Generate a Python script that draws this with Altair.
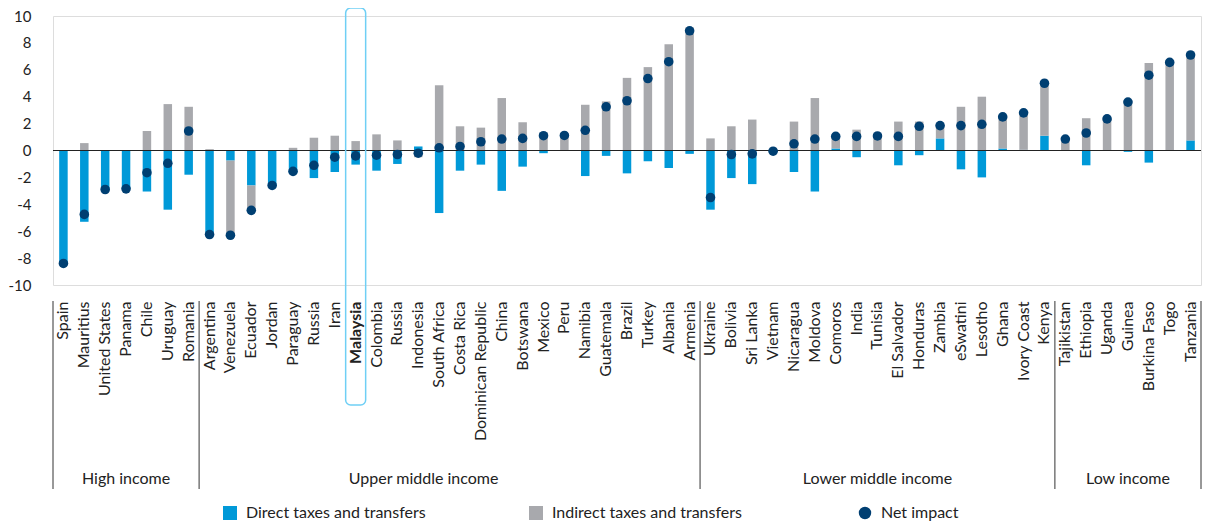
import altair as alt
import pandas as pd

countries = [
    "Spain", "Mauritius", "United States", "Panama", "Chile", "Uruguay", "Romania",
    "Argentina", "Venezuela", "Ecuador", "Jordan", "Paraguay", "Russia", "Iran", "Malaysia",
    "Colombia", "Russia", "Indonesia", "South Africa", "Costa Rica", "Dominican Republic",
    "China", "Botswana", "Mexico", "Peru", "Namibia", "Guatemala", "Brazil", "Turkey",
    "Albania", "Armenia",
    "Ukraine", "Bolivia", "Sri Lanka", "Vietnam", "Nicaragua", "Moldova", "Comoros", "India",
    "Tunisia", "El Salvador", "Honduras", "Zambia", "eSwatini", "Lesotho", "Ghana",
    "Ivory Coast", "Kenya",
    "Tajikistan", "Ethiopia", "Uganda", "Guinea", "Burkina Faso", "Togo", "Tanzania",
]
groups = ["High income", "Upper middle income", "Lower middle income", "Low income"]
group_sizes = [7, 24, 17, 7]

direct = [
    -8.4, -5.3, -2.9, -2.85, -3.05, -4.4, -1.8,
    -6.3, -0.75, -2.6, -2.6, -1.7, -2.05, -1.6, -1.05,
    -1.5, -1.0, 0.3, -4.65, -1.5, -1.05,
    -3.0, -1.2, -0.2, -0.03, -1.9, -0.4, -1.7, -0.8,
    -1.3, -0.25,
    -4.4, -2.05, -2.5, -0.1, -1.6, -3.05, 0.15, -0.5,
    -0.02, -1.1, -0.35, 0.9, -1.4, -2.0, 0.15,
    0.05, 1.1,
    0.0, -1.1, 0.0, -0.1, -0.9, 0.0, 0.75,
]
indirect = [
    0.0, 0.55, 0.0, 0.0, 1.45, 3.45, 3.25,
    0.1, -5.55, -1.8, 0.0, 0.2, 0.95, 1.1, 0.7,
    1.2, 0.75, -0.5, 4.85, 1.8, 1.7,
    3.9, 2.1, 1.3, 1.15, 3.4, 3.65, 5.4, 6.2,
    7.9, 9.15,
    0.9, 1.8, 2.3, 0.05, 2.15, 3.9, 0.9, 1.55,
    1.1, 2.15, 2.15, 0.95, 3.25, 4.0, 2.35,
    2.75, 3.9,
    0.85, 2.4, 2.35, 3.7, 6.5, 6.55, 6.35,
]
net = [
    -8.4, -4.75, -2.9, -2.85, -1.65, -0.95, 1.45,
    -6.25, -6.3, -4.45, -2.6, -1.55, -1.1, -0.5, -0.4,
    -0.35, -0.3, -0.2, 0.2, 0.3, 0.65,
    0.85, 0.9, 1.1, 1.12, 1.5, 3.25, 3.7, 5.35,
    6.6, 8.9,
    -3.5, -0.3, -0.25, -0.05, 0.5, 0.85, 1.05, 1.05,
    1.08, 1.05, 1.8, 1.85, 1.85, 1.95, 2.5,
    2.8, 5.0,
    0.85, 1.3, 2.35, 3.6, 5.6, 6.55, 7.1,
]
series_names = ["Direct taxes and transfers", "Indirect taxes and transfers"]
net_name = "Net impact"
highlight = "Malaysia"
y_ticks = [-10, -8, -6, -4, -2, 0, 2, 4, 6, 8, 10]

BLUE = "#0099D8"
GREY = "#A8A9AD"
NAVY = "#003F72"
FONT = "Lato"
TXT = "#222222"
FS = 16

# unique keys (Russia appears twice)
seen = {}
keys = []
for c in countries:
    k = seen.get(c, 0)
    keys.append(c + "\u200b" * k)
    seen[c] = k + 1

rows = []
for i, k in enumerate(keys):
    rows.append({"key": k, "series": series_names[0], "value": direct[i], "order": 0})
    rows.append({"key": k, "series": series_names[1], "value": indirect[i], "order": 1})
bars_df = pd.DataFrame(rows)
net_df = pd.DataFrame({"key": keys, "net": net, "series": net_name})

starts = []
s = 0
for n in group_sizes:
    starts.append(s)
    s += n
sep_left = pd.DataFrame({"key": [keys[i] for i in starts]})
sep_right = pd.DataFrame({"key": [keys[-1]]})
lab_rows = []
for g, s0, n in zip(groups, starts, group_sizes):
    lab_rows.append({"key": keys[s0 + n // 2], "group": g, "odd": int(n % 2)})
lab_df = pd.DataFrame(lab_rows)

xscale = alt.Scale(domain=keys, paddingInner=0, paddingOuter=0)
xaxis = alt.Axis(
    title=None, labelAngle=-90, labelAlign="right", labelBaseline="middle",
    labelPadding=16, ticks=False, domain=False, labelFontSize=FS,
    labelColor=TXT, labelLimit=400, labelFont=FONT,
    labelFontWeight={"condition": {"test": "datum.value == 'Malaysia'", "value": "bold"},
                     "value": "normal"},
)
yscale = alt.Scale(domain=[-10, 10], nice=False, zero=False)
yaxis = alt.Axis(
    title=None, values=y_ticks, labelExpr="'' + datum.value", ticks=False,
    domain=False, grid=False, labelFontSize=15, labelPadding=22, labelColor=TXT,
    labelFont=FONT,
)


def xenc(bp=0.5):
    return alt.X("key:N", scale=xscale, axis=xaxis, bandPosition=bp)


bars = alt.Chart(bars_df).mark_bar(width=8.5).encode(
    x=xenc(),
    y=alt.Y("value:Q", scale=yscale, axis=yaxis, stack="zero"),
    color=alt.Color(
        "series:N",
        scale=alt.Scale(domain=series_names, range=[BLUE, GREY]),
        legend=alt.Legend(
            orient="none", legendX=169, legendY=489, direction="horizontal",
            title=None, symbolType="square", symbolSize=196, symbolStrokeWidth=0,
            labelFontSize=FS, labelFont=FONT, labelColor=TXT, labelOffset=8,
            labelLimit=400, columnPadding=102, padding=0,
        ),
    ),
    order=alt.Order("order:Q"),
)

zero = alt.Chart(pd.DataFrame({"z": [0]})).mark_rule(color=TXT, strokeWidth=1).encode(
    y=alt.Y("z:Q", scale=yscale, axis=yaxis)
)

dots = alt.Chart(net_df).mark_circle(size=92, opacity=1).encode(
    x=xenc(),
    y=alt.Y("net:Q", scale=yscale, axis=yaxis),
    fill=alt.Fill(
        "series:N",
        scale=alt.Scale(domain=[net_name], range=[NAVY]),
        legend=alt.Legend(
            orient="none", legendX=804, legendY=489, title=None,
            symbolType="circle", symbolSize=154, symbolStrokeWidth=0,
            labelFontSize=FS, labelFont=FONT, labelColor=TXT, labelOffset=8,
            labelLimit=400, padding=0,
        ),
    ),
)

box = alt.Chart(net_df).transform_filter(alt.datum.key == highlight).mark_bar(
    width=20, cornerRadius=5, fillOpacity=0, stroke="#6FCFF5", strokeWidth=1.5,
    color="#6FCFF5",
).encode(x=xenc(), y=alt.value(-8), y2=alt.value(389))

sep_l = alt.Chart(sep_left).mark_rule(color="#333333", strokeWidth=1).encode(
    x=xenc(0), y=alt.value(285), y2=alt.value(473)
)
sep_r = alt.Chart(sep_right).mark_rule(color="#333333", strokeWidth=1).encode(
    x=xenc(1), y=alt.value(285), y2=alt.value(473)
)

lab_odd = alt.Chart(lab_df).transform_filter(alt.datum.odd == 1).mark_text(
    fontSize=FS, font=FONT, color=TXT, baseline="middle", align="center"
).encode(x=xenc(0.5), y=alt.value(463), text="group:N")
lab_even = alt.Chart(lab_df).transform_filter(alt.datum.odd == 0).mark_text(
    fontSize=FS, font=FONT, color=TXT, baseline="middle", align="center", dx=-26
).encode(x=xenc(0), y=alt.value(463), text="group:N")

chart = alt.layer(bars, zero, dots, box, sep_l, sep_r, lab_odd, lab_even).properties(
    width=1148, height=269,
    autosize=alt.AutoSizeParams(type="none"),
    padding={"left": 45, "top": 8, "right": 1, "bottom": 238},
).configure_view(stroke=None).configure(font=FONT)

chart.save("out.html", embed_options={"renderer": "svg", "actions": False})
